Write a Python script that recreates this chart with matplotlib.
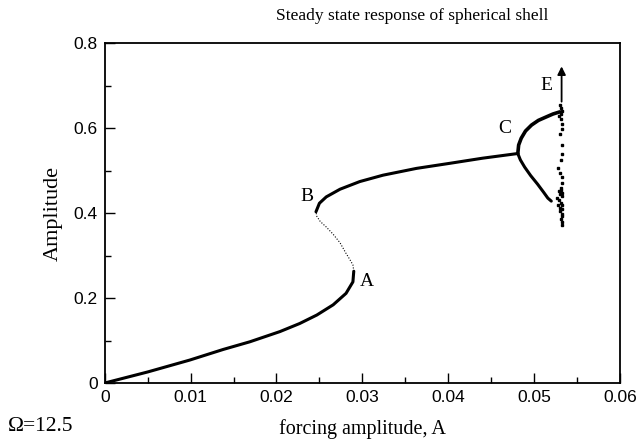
import matplotlib
matplotlib.use("Agg")
import matplotlib.pyplot as plt
from matplotlib.ticker import MultipleLocator

# ---- data ----
lower_x = [0.0, 0.005, 0.0099, 0.0138, 0.0169, 0.0204, 0.0227, 0.0247, 0.0266, 0.0281, 0.0289, 0.0290]
lower_y = [0.0, 0.026, 0.054, 0.079, 0.097, 0.121, 0.140, 0.160, 0.184, 0.211, 0.238, 0.263]

unstable_x = [0.0290, 0.0289, 0.0285, 0.0281, 0.0274, 0.0266, 0.0258, 0.0251, 0.0247, 0.0246]
unstable_y = [0.263, 0.278, 0.292, 0.305, 0.330, 0.350, 0.367, 0.380, 0.392, 0.403]

upper_x = [0.0246, 0.0250, 0.0258, 0.0274, 0.0297, 0.0324, 0.0363, 0.0402, 0.0440, 0.0481]
upper_y = [0.403, 0.423, 0.438, 0.456, 0.474, 0.489, 0.505, 0.517, 0.529, 0.540]

branch_hi_x = [0.0481, 0.0482, 0.0485, 0.0490, 0.0497, 0.0505, 0.0514, 0.0522, 0.0530]
branch_hi_y = [0.540, 0.560, 0.576, 0.593, 0.607, 0.618, 0.626, 0.633, 0.638]

branch_lo_x = [0.0481, 0.0484, 0.0489, 0.0496, 0.0504, 0.0511, 0.0516, 0.0520]
branch_lo_y = [0.540, 0.525, 0.508, 0.488, 0.468, 0.449, 0.435, 0.428]

dots_x = [0.0530, 0.0531, 0.0532, 0.0531, 0.0529, 0.0531, 0.0533, 0.0532, 0.0530, 0.0532,
          0.0533, 0.0531, 0.0528, 0.0530, 0.0532, 0.0533, 0.0531, 0.0529, 0.0530, 0.0532,
          0.0533, 0.0531, 0.0527, 0.0529, 0.0531, 0.0533, 0.0532, 0.0530, 0.0532, 0.0533,
          0.0531, 0.0532, 0.0533, 0.0530, 0.0528]
dots_y = [0.655, 0.648, 0.641, 0.634, 0.628, 0.622, 0.610, 0.598, 0.585, 0.560,
          0.540, 0.525, 0.505, 0.495, 0.485, 0.470, 0.460, 0.452, 0.445, 0.440,
          0.448, 0.455, 0.436, 0.430, 0.424, 0.418, 0.410, 0.404, 0.398, 0.392,
          0.386, 0.380, 0.372, 0.412, 0.420]

arrow_x = 0.0532
arrow_y0, arrow_y1 = 0.662, 0.745

xticks = [0, 0.01, 0.02, 0.03, 0.04, 0.05, 0.06]
xtick_labels = ["0", "0.01", "0.02", "0.03", "0.04", "0.05", "0.06"]
yticks = [0, 0.2, 0.4, 0.6, 0.8]
ytick_labels = ["0", "0.2", "0.4", "0.6", "0.8"]

point_labels = ["A", "B", "C", "E"]
point_label_x = [0.0305, 0.0236, 0.0466, 0.0514]
point_label_y = [0.238, 0.440, 0.600, 0.700]

# ---- figure ----
serif = ["Liberation Serif", "DejaVu Serif"]
sans = ["Liberation Sans", "DejaVu Sans"]

fig = plt.figure(figsize=(6.37, 4.43), dpi=100)
ax = fig.add_axes([0.1644, 0.1354, 0.8089, 0.7675])

ax.plot(lower_x, lower_y, color="black", lw=2.2, solid_capstyle="round")
ax.plot(unstable_x, unstable_y, color="black", lw=0.8, ls=(0, (1, 1.5)))
ax.plot(upper_x, upper_y, color="black", lw=2.2, solid_capstyle="round")
ax.plot(branch_hi_x, branch_hi_y, color="black", lw=2.6, solid_capstyle="round")
ax.plot(branch_lo_x, branch_lo_y, color="black", lw=2.2, solid_capstyle="round")
ax.plot(dots_x, dots_y, ls="none", marker="s", ms=2.0, color="black")
ax.annotate("", xy=(arrow_x, arrow_y1), xytext=(arrow_x, arrow_y0),
            arrowprops=dict(arrowstyle="-|>", color="black", lw=1.3,
                            mutation_scale=12, shrinkA=0, shrinkB=0))

for t, x, y in zip(point_labels, point_label_x, point_label_y):
    ax.text(x, y, t, family=serif, fontsize=14, ha="center", va="center")

ax.set_xlim(0, 0.06)
ax.set_ylim(0, 0.8)
ax.set_xticks(xticks)
ax.set_xticklabels(xtick_labels, family=sans, fontsize=12.5)
ax.set_yticks(yticks)
ax.set_yticklabels(ytick_labels, family=sans, fontsize=12.5)
ax.xaxis.set_minor_locator(MultipleLocator(0.005))
ax.yaxis.set_minor_locator(MultipleLocator(0.1))
ax.tick_params(which="major", direction="in", length=7, width=1.0, pad=5)
ax.tick_params(which="minor", direction="in", length=4, width=1.0)
ax.tick_params(top=False, right=False, which="both")
for s in ax.spines.values():
    s.set_linewidth(1.3)

ax.set_xlabel("forcing amplitude, A", family=serif, fontsize=14.5, labelpad=10)
ax.set_ylabel("Amplitude", family=serif, fontsize=16, labelpad=8)
fig.text(0.647, 0.965, "Steady state response of spherical shell", family=serif,
         fontsize=12.5, ha="center", va="center")
fig.text(0.012, 0.037, "Ω=12.5", family=serif, fontsize=15.5, ha="left", va="center")

fig.savefig("out.png", dpi=100)
